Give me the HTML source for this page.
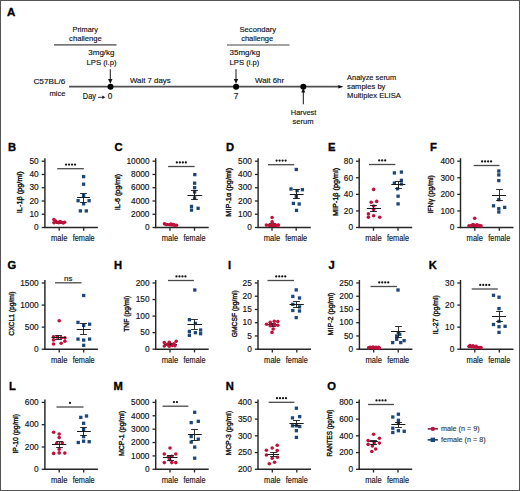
<!DOCTYPE html>
<html><head><meta charset="utf-8"><style>
html,body{margin:0;padding:0;background:#fff;}
body{width:520px;height:491px;overflow:hidden;}
.frame{position:absolute;left:0;top:0;width:518px;height:489px;border:1px solid #545454;}
svg{position:absolute;left:0;top:0;}
text{font-family:"Liberation Sans",sans-serif;stroke:#111;stroke-width:0.15px;}
</style></head><body>
<svg width="520" height="491" viewBox="0 0 520 491">
<rect x="0" y="0" width="520" height="491" fill="#fff"/>
<text x="7.0" y="16" font-size="11.5" text-anchor="start" font-weight="bold" fill="#000" style="stroke:#000;stroke-width:0.35px">A</text>
<text x="72.50" y="31.90" font-size="8.0" fill="#111" style="stroke-width:0.15px" textLength="25.40" lengthAdjust="spacingAndGlyphs">Primary</text>
<text x="69.10" y="41.10" font-size="8.0" fill="#111" style="stroke-width:0.15px" textLength="32.70" lengthAdjust="spacingAndGlyphs">challenge</text>
<line x1="54" y1="44.8" x2="116.5" y2="44.8" stroke="#444" stroke-width="1.2"/>
<text x="88.30" y="55.20" font-size="8.0" fill="#111" style="stroke-width:0.15px" textLength="26.20" lengthAdjust="spacingAndGlyphs">3mg/kg</text>
<text x="86.50" y="64.70" font-size="8.0" fill="#111" style="stroke-width:0.15px" textLength="30.10" lengthAdjust="spacingAndGlyphs">LPS (i.p)</text>
<text x="239.50" y="31.90" font-size="8.0" fill="#111" style="stroke-width:0.15px" textLength="36.60" lengthAdjust="spacingAndGlyphs">Secondary</text>
<text x="241.20" y="41.10" font-size="8.0" fill="#111" style="stroke-width:0.15px" textLength="32.00" lengthAdjust="spacingAndGlyphs">challenge</text>
<line x1="227" y1="45" x2="289.5" y2="45" stroke="#444" stroke-width="1.2"/>
<text x="229.60" y="55.20" font-size="8.0" fill="#111" style="stroke-width:0.15px" textLength="30.60" lengthAdjust="spacingAndGlyphs">35mg/kg</text>
<text x="229.60" y="64.70" font-size="8.0" fill="#111" style="stroke-width:0.15px" textLength="29.80" lengthAdjust="spacingAndGlyphs">LPS (i.p)</text>
<line x1="69" y1="86.7" x2="339" y2="86.7" stroke="#505050" stroke-width="1.7"/>
<path d="M338.3 84.9 L343.5 86.7 L338.3 88.5 Z" fill="#111"/>
<circle cx="110.5" cy="86.7" r="3.0" fill="#000"/>
<circle cx="236.1" cy="86.7" r="3.0" fill="#000"/>
<circle cx="303.3" cy="86.7" r="3.0" fill="#000"/>
<line x1="110.3" y1="69.3" x2="110.3" y2="80" stroke="#222" stroke-width="1.05"/>
<path d="M108.1 78.9 L112.5 78.9 L110.3 83.8 Z" fill="#111"/>
<line x1="236.0" y1="69.3" x2="236.0" y2="80" stroke="#222" stroke-width="1.05"/>
<path d="M233.8 78.9 L238.2 78.9 L236.0 83.8 Z" fill="#111"/>
<line x1="303.3" y1="91" x2="303.3" y2="104.3" stroke="#111" stroke-width="1"/>
<path d="M301.2 92.5 L305.4 92.5 L303.3 88.3 Z" fill="#111"/>
<text x="33.40" y="83.90" font-size="8.0" fill="#111" style="stroke-width:0.15px" textLength="32.00" lengthAdjust="spacingAndGlyphs">C57BL/6</text>
<text x="49.50" y="95.90" font-size="8.0" fill="#111" style="stroke-width:0.15px" textLength="15.90" lengthAdjust="spacingAndGlyphs">mice</text>
<text x="82.8" y="99.3" font-size="8.4" text-anchor="start" font-weight="normal" fill="#111" textLength="13.2" lengthAdjust="spacingAndGlyphs">Day</text>
<line x1="98" y1="97.3" x2="103" y2="97.3" stroke="#222" stroke-width="0.9"/>
<path d="M102.3 95.6 L105.3 97.3 L102.3 99 Z" fill="#111"/>
<text x="107.7" y="99.3" font-size="8.4" text-anchor="start" font-weight="normal" fill="#111" textLength="4.6" lengthAdjust="spacingAndGlyphs">0</text>
<text x="130.00" y="82.70" font-size="8.0" fill="#111" style="stroke-width:0.15px" textLength="40.60" lengthAdjust="spacingAndGlyphs">Wait 7 days</text>
<text x="236.2" y="99.3" font-size="8.4" text-anchor="middle" font-weight="normal" fill="#111" >7</text>
<text x="255.10" y="82.70" font-size="8.0" fill="#111" style="stroke-width:0.15px" textLength="29.00" lengthAdjust="spacingAndGlyphs">Wait 6hr</text>
<text x="290.80" y="114.80" font-size="8.0" fill="#111" style="stroke-width:0.15px" textLength="25.60" lengthAdjust="spacingAndGlyphs">Harvest</text>
<text x="292.60" y="124.00" font-size="8.0" fill="#111" style="stroke-width:0.15px" textLength="21.00" lengthAdjust="spacingAndGlyphs">serum</text>
<text x="347.10" y="79.70" font-size="8.0" fill="#111" style="stroke-width:0.15px" textLength="49.10" lengthAdjust="spacingAndGlyphs">Analyze serum</text>
<text x="347.10" y="89.00" font-size="8.0" fill="#111" style="stroke-width:0.15px" textLength="38.30" lengthAdjust="spacingAndGlyphs">samples by</text>
<text x="347.10" y="98.30" font-size="8.0" fill="#111" style="stroke-width:0.15px" textLength="53.70" lengthAdjust="spacingAndGlyphs">Multiplex ELISA</text>
<text x="8.0" y="150.8" font-size="11.2" text-anchor="start" font-weight="bold" fill="#000" style="stroke:#000;stroke-width:0.35px">B</text>
<line x1="44.9" y1="158.2" x2="44.9" y2="228.1" stroke="#262626" stroke-width="1.45"/>
<line x1="44.199999999999996" y1="227.5" x2="97.9" y2="227.5" stroke="#262626" stroke-width="1.45"/>
<line x1="41.699999999999996" y1="227.50" x2="44.9" y2="227.50" stroke="#262626" stroke-width="1.3"/>
<text x="38.7" y="230.25" font-size="8.3" text-anchor="end" font-weight="normal" fill="#111" >0</text>
<line x1="41.699999999999996" y1="214.24" x2="44.9" y2="214.24" stroke="#262626" stroke-width="1.3"/>
<text x="38.7" y="216.99" font-size="8.3" text-anchor="end" font-weight="normal" fill="#111" >10</text>
<line x1="41.699999999999996" y1="200.98" x2="44.9" y2="200.98" stroke="#262626" stroke-width="1.3"/>
<text x="38.7" y="203.73" font-size="8.3" text-anchor="end" font-weight="normal" fill="#111" >20</text>
<line x1="41.699999999999996" y1="187.72" x2="44.9" y2="187.72" stroke="#262626" stroke-width="1.3"/>
<text x="38.7" y="190.47" font-size="8.3" text-anchor="end" font-weight="normal" fill="#111" >30</text>
<line x1="41.699999999999996" y1="174.46" x2="44.9" y2="174.46" stroke="#262626" stroke-width="1.3"/>
<text x="38.7" y="177.21" font-size="8.3" text-anchor="end" font-weight="normal" fill="#111" >40</text>
<line x1="41.699999999999996" y1="161.20" x2="44.9" y2="161.20" stroke="#262626" stroke-width="1.3"/>
<text x="38.7" y="163.95" font-size="8.3" text-anchor="end" font-weight="normal" fill="#111" >50</text>
<line x1="59.2" y1="227.5" x2="59.2" y2="230.7" stroke="#262626" stroke-width="1.3"/>
<line x1="83.7" y1="227.5" x2="83.7" y2="230.7" stroke="#262626" stroke-width="1.3"/>
<text x="59.2" y="241.0" font-size="8.8" text-anchor="middle" font-weight="normal" fill="#111" textLength="16.4" lengthAdjust="spacingAndGlyphs">male</text>
<text x="83.7" y="241.0" font-size="8.8" text-anchor="middle" font-weight="normal" fill="#111" textLength="22.0" lengthAdjust="spacingAndGlyphs">female</text>
<text transform="translate(22.40,192.30) rotate(-90)" x="0" y="0" font-size="8.0" style="stroke-width:0.38px" text-anchor="middle" textLength="41.8" lengthAdjust="spacingAndGlyphs" fill="#111">IL-1β (pg/ml)</text>
<line x1="57.2" y1="168.7" x2="83.9" y2="168.7" stroke="#4a4a4a" stroke-width="1.3"/>
<circle cx="66.05" cy="164.60" r="1.12" fill="#111"/>
<circle cx="69.05" cy="164.60" r="1.12" fill="#111"/>
<circle cx="72.05" cy="164.60" r="1.12" fill="#111"/>
<circle cx="75.05" cy="164.60" r="1.12" fill="#111"/>
<line x1="52.5" y1="222.5" x2="65.5" y2="222.5" stroke="#1a1a1a" stroke-width="1"/>
<line x1="59.5" y1="221.5" x2="59.5" y2="223.5" stroke="#1a1a1a" stroke-width="0.9"/>
<line x1="56.1" y1="221.5" x2="62.9" y2="221.5" stroke="#1a1a1a" stroke-width="0.9"/>
<line x1="56.1" y1="223.5" x2="62.9" y2="223.5" stroke="#1a1a1a" stroke-width="0.9"/>
<circle cx="53.9" cy="219.5" r="1.8" fill="#c0113a"/>
<circle cx="54" cy="222.8" r="1.8" fill="#c0113a"/>
<circle cx="56.3" cy="222" r="1.8" fill="#c0113a"/>
<circle cx="58.7" cy="222.8" r="1.8" fill="#c0113a"/>
<circle cx="61" cy="222.2" r="1.8" fill="#c0113a"/>
<circle cx="63.3" cy="222.9" r="1.8" fill="#c0113a"/>
<circle cx="64.6" cy="222.3" r="1.8" fill="#c0113a"/>
<circle cx="60" cy="221.5" r="1.8" fill="#c0113a"/>
<circle cx="55.5" cy="221" r="1.8" fill="#c0113a"/>
<rect x="81.94999999999999" y="174.95" width="3.3" height="3.3" fill="#1b4679"/>
<rect x="81.94999999999999" y="182.54999999999998" width="3.3" height="3.3" fill="#1b4679"/>
<rect x="81.94999999999999" y="193.95" width="3.3" height="3.3" fill="#1b4679"/>
<rect x="76.44999999999999" y="199.04999999999998" width="3.3" height="3.3" fill="#1b4679"/>
<rect x="87.44999999999999" y="199.04999999999998" width="3.3" height="3.3" fill="#1b4679"/>
<rect x="81.94999999999999" y="202.15" width="3.3" height="3.3" fill="#1b4679"/>
<rect x="78.75" y="209.25" width="3.3" height="3.3" fill="#1b4679"/>
<rect x="84.64999999999999" y="209.25" width="3.3" height="3.3" fill="#1b4679"/>
<line x1="77.1" y1="197.5" x2="89.9" y2="197.5" stroke="#1a1a1a" stroke-width="1"/>
<line x1="83.5" y1="193.5" x2="83.5" y2="202.5" stroke="#1a1a1a" stroke-width="0.9"/>
<line x1="80.1" y1="193.5" x2="86.9" y2="193.5" stroke="#1a1a1a" stroke-width="0.9"/>
<line x1="80.1" y1="202.5" x2="86.9" y2="202.5" stroke="#1a1a1a" stroke-width="0.9"/>
<text x="114.5" y="150.8" font-size="11.2" text-anchor="start" font-weight="bold" fill="#000" style="stroke:#000;stroke-width:0.35px">C</text>
<line x1="155.7" y1="158.2" x2="155.7" y2="228.1" stroke="#262626" stroke-width="1.45"/>
<line x1="155.0" y1="227.5" x2="208.7" y2="227.5" stroke="#262626" stroke-width="1.45"/>
<line x1="152.5" y1="227.50" x2="155.7" y2="227.50" stroke="#262626" stroke-width="1.3"/>
<text x="149.5" y="230.25" font-size="8.3" text-anchor="end" font-weight="normal" fill="#111" >0</text>
<line x1="152.5" y1="214.24" x2="155.7" y2="214.24" stroke="#262626" stroke-width="1.3"/>
<text x="149.5" y="216.99" font-size="8.3" text-anchor="end" font-weight="normal" fill="#111" >2000</text>
<line x1="152.5" y1="200.98" x2="155.7" y2="200.98" stroke="#262626" stroke-width="1.3"/>
<text x="149.5" y="203.73" font-size="8.3" text-anchor="end" font-weight="normal" fill="#111" >4000</text>
<line x1="152.5" y1="187.72" x2="155.7" y2="187.72" stroke="#262626" stroke-width="1.3"/>
<text x="149.5" y="190.47" font-size="8.3" text-anchor="end" font-weight="normal" fill="#111" >6000</text>
<line x1="152.5" y1="174.46" x2="155.7" y2="174.46" stroke="#262626" stroke-width="1.3"/>
<text x="149.5" y="177.21" font-size="8.3" text-anchor="end" font-weight="normal" fill="#111" >8000</text>
<line x1="152.5" y1="161.20" x2="155.7" y2="161.20" stroke="#262626" stroke-width="1.3"/>
<text x="149.5" y="163.95" font-size="8.3" text-anchor="end" font-weight="normal" fill="#111" >10000</text>
<line x1="170.0" y1="227.5" x2="170.0" y2="230.7" stroke="#262626" stroke-width="1.3"/>
<line x1="194.5" y1="227.5" x2="194.5" y2="230.7" stroke="#262626" stroke-width="1.3"/>
<text x="170.0" y="241.0" font-size="8.8" text-anchor="middle" font-weight="normal" fill="#111" textLength="16.4" lengthAdjust="spacingAndGlyphs">male</text>
<text x="194.5" y="241.0" font-size="8.8" text-anchor="middle" font-weight="normal" fill="#111" textLength="22.0" lengthAdjust="spacingAndGlyphs">female</text>
<text transform="translate(120.40,192.10) rotate(-90)" x="0" y="0" font-size="8.0" style="stroke-width:0.38px" text-anchor="middle" textLength="36.4" lengthAdjust="spacingAndGlyphs" fill="#111">IL-6 (pg/ml)</text>
<line x1="168.1" y1="166.5" x2="194.6" y2="166.5" stroke="#4a4a4a" stroke-width="1.3"/>
<circle cx="176.85" cy="162.40" r="1.12" fill="#111"/>
<circle cx="179.85" cy="162.40" r="1.12" fill="#111"/>
<circle cx="182.85" cy="162.40" r="1.12" fill="#111"/>
<circle cx="185.85" cy="162.40" r="1.12" fill="#111"/>
<line x1="163.5" y1="224.5" x2="177" y2="224.5" stroke="#1a1a1a" stroke-width="1"/>
<line x1="170.5" y1="224.5" x2="170.5" y2="225.5" stroke="#1a1a1a" stroke-width="0.9"/>
<line x1="167.1" y1="224.5" x2="173.9" y2="224.5" stroke="#1a1a1a" stroke-width="0.9"/>
<line x1="167.1" y1="225.5" x2="173.9" y2="225.5" stroke="#1a1a1a" stroke-width="0.9"/>
<circle cx="164.5" cy="223.8" r="1.8" fill="#c0113a"/>
<circle cx="167" cy="224.5" r="1.8" fill="#c0113a"/>
<circle cx="169.5" cy="224.8" r="1.8" fill="#c0113a"/>
<circle cx="172" cy="225" r="1.8" fill="#c0113a"/>
<circle cx="174.5" cy="225.2" r="1.8" fill="#c0113a"/>
<circle cx="176.5" cy="225.3" r="1.8" fill="#c0113a"/>
<circle cx="166" cy="224.5" r="1.8" fill="#c0113a"/>
<circle cx="171" cy="224" r="1.8" fill="#c0113a"/>
<circle cx="173.5" cy="224.6" r="1.8" fill="#c0113a"/>
<rect x="193.15" y="172.95" width="3.3" height="3.3" fill="#1b4679"/>
<rect x="192.95" y="181.54999999999998" width="3.3" height="3.3" fill="#1b4679"/>
<rect x="192.95" y="186.04999999999998" width="3.3" height="3.3" fill="#1b4679"/>
<rect x="192.95" y="190.35" width="3.3" height="3.3" fill="#1b4679"/>
<rect x="192.95" y="196.35" width="3.3" height="3.3" fill="#1b4679"/>
<rect x="189.85" y="204.75" width="3.3" height="3.3" fill="#1b4679"/>
<rect x="189.85" y="208.45" width="3.3" height="3.3" fill="#1b4679"/>
<rect x="196.45" y="206.65" width="3.3" height="3.3" fill="#1b4679"/>
<line x1="187.5" y1="195.5" x2="202.2" y2="195.5" stroke="#1a1a1a" stroke-width="1"/>
<line x1="194.5" y1="190.5" x2="194.5" y2="199.5" stroke="#1a1a1a" stroke-width="0.9"/>
<line x1="191.1" y1="190.5" x2="197.9" y2="190.5" stroke="#1a1a1a" stroke-width="0.9"/>
<line x1="191.1" y1="199.5" x2="197.9" y2="199.5" stroke="#1a1a1a" stroke-width="0.9"/>
<text x="226.0" y="150.8" font-size="11.2" text-anchor="start" font-weight="bold" fill="#000" style="stroke:#000;stroke-width:0.35px">D</text>
<line x1="258.1" y1="158.2" x2="258.1" y2="228.1" stroke="#262626" stroke-width="1.45"/>
<line x1="257.40000000000003" y1="227.5" x2="310.8" y2="227.5" stroke="#262626" stroke-width="1.45"/>
<line x1="254.90000000000003" y1="227.50" x2="258.1" y2="227.50" stroke="#262626" stroke-width="1.3"/>
<text x="251.9" y="230.25" font-size="8.3" text-anchor="end" font-weight="normal" fill="#111" >0</text>
<line x1="254.90000000000003" y1="214.24" x2="258.1" y2="214.24" stroke="#262626" stroke-width="1.3"/>
<text x="251.9" y="216.99" font-size="8.3" text-anchor="end" font-weight="normal" fill="#111" >100</text>
<line x1="254.90000000000003" y1="200.98" x2="258.1" y2="200.98" stroke="#262626" stroke-width="1.3"/>
<text x="251.9" y="203.73" font-size="8.3" text-anchor="end" font-weight="normal" fill="#111" >200</text>
<line x1="254.90000000000003" y1="187.72" x2="258.1" y2="187.72" stroke="#262626" stroke-width="1.3"/>
<text x="251.9" y="190.47" font-size="8.3" text-anchor="end" font-weight="normal" fill="#111" >300</text>
<line x1="254.90000000000003" y1="174.46" x2="258.1" y2="174.46" stroke="#262626" stroke-width="1.3"/>
<text x="251.9" y="177.21" font-size="8.3" text-anchor="end" font-weight="normal" fill="#111" >400</text>
<line x1="254.90000000000003" y1="161.20" x2="258.1" y2="161.20" stroke="#262626" stroke-width="1.3"/>
<text x="251.9" y="163.95" font-size="8.3" text-anchor="end" font-weight="normal" fill="#111" >500</text>
<line x1="272.0" y1="227.5" x2="272.0" y2="230.7" stroke="#262626" stroke-width="1.3"/>
<line x1="296.2" y1="227.5" x2="296.2" y2="230.7" stroke="#262626" stroke-width="1.3"/>
<text x="272.0" y="241.0" font-size="8.8" text-anchor="middle" font-weight="normal" fill="#111" textLength="16.4" lengthAdjust="spacingAndGlyphs">male</text>
<text x="296.2" y="241.0" font-size="8.8" text-anchor="middle" font-weight="normal" fill="#111" textLength="22.0" lengthAdjust="spacingAndGlyphs">female</text>
<text transform="translate(231.40,192.25) rotate(-90)" x="0" y="0" font-size="8.0" style="stroke-width:0.38px" text-anchor="middle" textLength="48.9" lengthAdjust="spacingAndGlyphs" fill="#111">MIP-1α (pg/ml)</text>
<line x1="268.0" y1="164.7" x2="294.2" y2="164.7" stroke="#4a4a4a" stroke-width="1.3"/>
<circle cx="276.60" cy="160.60" r="1.12" fill="#111"/>
<circle cx="279.60" cy="160.60" r="1.12" fill="#111"/>
<circle cx="282.60" cy="160.60" r="1.12" fill="#111"/>
<circle cx="285.60" cy="160.60" r="1.12" fill="#111"/>
<line x1="265" y1="224.5" x2="279" y2="224.5" stroke="#1a1a1a" stroke-width="1"/>
<line x1="272.5" y1="223.5" x2="272.5" y2="226.5" stroke="#1a1a1a" stroke-width="0.9"/>
<line x1="269.1" y1="223.5" x2="275.9" y2="223.5" stroke="#1a1a1a" stroke-width="0.9"/>
<line x1="269.1" y1="226.5" x2="275.9" y2="226.5" stroke="#1a1a1a" stroke-width="0.9"/>
<circle cx="272.1" cy="217.5" r="1.8" fill="#c0113a"/>
<circle cx="272.1" cy="221.8" r="1.8" fill="#c0113a"/>
<circle cx="266.4" cy="225.1" r="1.8" fill="#c0113a"/>
<circle cx="269" cy="225.3" r="1.8" fill="#c0113a"/>
<circle cx="271.6" cy="225.4" r="1.8" fill="#c0113a"/>
<circle cx="274.2" cy="225.4" r="1.8" fill="#c0113a"/>
<circle cx="276.8" cy="225.3" r="1.8" fill="#c0113a"/>
<circle cx="278.5" cy="225.1" r="1.8" fill="#c0113a"/>
<circle cx="272.5" cy="223.9" r="1.8" fill="#c0113a"/>
<rect x="294.65000000000003" y="167.85" width="3.3" height="3.3" fill="#1b4679"/>
<rect x="289.35" y="187.35" width="3.3" height="3.3" fill="#1b4679"/>
<rect x="295.45000000000005" y="188.95" width="3.3" height="3.3" fill="#1b4679"/>
<rect x="300.75" y="188.04999999999998" width="3.3" height="3.3" fill="#1b4679"/>
<rect x="294.65000000000003" y="194.75" width="3.3" height="3.3" fill="#1b4679"/>
<rect x="291.75" y="201.75" width="3.3" height="3.3" fill="#1b4679"/>
<rect x="297.55" y="202.35" width="3.3" height="3.3" fill="#1b4679"/>
<rect x="294.85" y="208.75" width="3.3" height="3.3" fill="#1b4679"/>
<line x1="289.8" y1="194.5" x2="303.6" y2="194.5" stroke="#1a1a1a" stroke-width="1"/>
<line x1="296.5" y1="189.5" x2="296.5" y2="198.5" stroke="#1a1a1a" stroke-width="0.9"/>
<line x1="293.1" y1="189.5" x2="299.9" y2="189.5" stroke="#1a1a1a" stroke-width="0.9"/>
<line x1="293.1" y1="198.5" x2="299.9" y2="198.5" stroke="#1a1a1a" stroke-width="0.9"/>
<text x="328.0" y="150.8" font-size="11.2" text-anchor="start" font-weight="bold" fill="#000" style="stroke:#000;stroke-width:0.35px">E</text>
<line x1="359.2" y1="158.2" x2="359.2" y2="228.1" stroke="#262626" stroke-width="1.45"/>
<line x1="358.5" y1="227.5" x2="412.2" y2="227.5" stroke="#262626" stroke-width="1.45"/>
<line x1="356.0" y1="227.50" x2="359.2" y2="227.50" stroke="#262626" stroke-width="1.3"/>
<text x="353.0" y="230.25" font-size="8.3" text-anchor="end" font-weight="normal" fill="#111" >0</text>
<line x1="356.0" y1="210.93" x2="359.2" y2="210.93" stroke="#262626" stroke-width="1.3"/>
<text x="353.0" y="213.68" font-size="8.3" text-anchor="end" font-weight="normal" fill="#111" >20</text>
<line x1="356.0" y1="194.35" x2="359.2" y2="194.35" stroke="#262626" stroke-width="1.3"/>
<text x="353.0" y="197.1" font-size="8.3" text-anchor="end" font-weight="normal" fill="#111" >40</text>
<line x1="356.0" y1="177.77" x2="359.2" y2="177.77" stroke="#262626" stroke-width="1.3"/>
<text x="353.0" y="180.52" font-size="8.3" text-anchor="end" font-weight="normal" fill="#111" >60</text>
<line x1="356.0" y1="161.20" x2="359.2" y2="161.20" stroke="#262626" stroke-width="1.3"/>
<text x="353.0" y="163.95" font-size="8.3" text-anchor="end" font-weight="normal" fill="#111" >80</text>
<line x1="373.5" y1="227.5" x2="373.5" y2="230.7" stroke="#262626" stroke-width="1.3"/>
<line x1="398.0" y1="227.5" x2="398.0" y2="230.7" stroke="#262626" stroke-width="1.3"/>
<text x="373.5" y="241.0" font-size="8.8" text-anchor="middle" font-weight="normal" fill="#111" textLength="16.4" lengthAdjust="spacingAndGlyphs">male</text>
<text x="398.0" y="241.0" font-size="8.8" text-anchor="middle" font-weight="normal" fill="#111" textLength="22.0" lengthAdjust="spacingAndGlyphs">female</text>
<text transform="translate(338.00,191.95) rotate(-90)" x="0" y="0" font-size="8.0" style="stroke-width:0.38px" text-anchor="middle" textLength="48.3" lengthAdjust="spacingAndGlyphs" fill="#111">MIP-1β (pg/ml)</text>
<line x1="369.0" y1="164.5" x2="395.4" y2="164.5" stroke="#4a4a4a" stroke-width="1.3"/>
<circle cx="379.20" cy="160.40" r="1.12" fill="#111"/>
<circle cx="382.20" cy="160.40" r="1.12" fill="#111"/>
<circle cx="385.20" cy="160.40" r="1.12" fill="#111"/>
<circle cx="373.6" cy="189.4" r="1.8" fill="#c0113a"/>
<circle cx="371.2" cy="202.3" r="1.8" fill="#c0113a"/>
<circle cx="376.7" cy="201.4" r="1.8" fill="#c0113a"/>
<circle cx="373.6" cy="209.6" r="1.8" fill="#c0113a"/>
<circle cx="368.4" cy="213.9" r="1.8" fill="#c0113a"/>
<circle cx="368.4" cy="217.3" r="1.8" fill="#c0113a"/>
<circle cx="373.6" cy="215.7" r="1.8" fill="#c0113a"/>
<circle cx="379.7" cy="217.3" r="1.8" fill="#c0113a"/>
<circle cx="373.6" cy="206" r="1.8" fill="#c0113a"/>
<rect x="392.75" y="171.25" width="3.3" height="3.3" fill="#1b4679"/>
<rect x="399.75" y="170.45" width="3.3" height="3.3" fill="#1b4679"/>
<rect x="399.75" y="178.65" width="3.3" height="3.3" fill="#1b4679"/>
<rect x="392.75" y="181.45" width="3.3" height="3.3" fill="#1b4679"/>
<rect x="399.75" y="182.35" width="3.3" height="3.3" fill="#1b4679"/>
<rect x="395.85" y="187.15" width="3.3" height="3.3" fill="#1b4679"/>
<rect x="396.45000000000005" y="194.54999999999998" width="3.3" height="3.3" fill="#1b4679"/>
<rect x="396.45000000000005" y="202.25" width="3.3" height="3.3" fill="#1b4679"/>
<line x1="366.9" y1="208.5" x2="381" y2="208.5" stroke="#1a1a1a" stroke-width="1"/>
<line x1="373.5" y1="205.5" x2="373.5" y2="211.5" stroke="#1a1a1a" stroke-width="0.9"/>
<line x1="370.1" y1="205.5" x2="376.9" y2="205.5" stroke="#1a1a1a" stroke-width="0.9"/>
<line x1="370.1" y1="211.5" x2="376.9" y2="211.5" stroke="#1a1a1a" stroke-width="0.9"/>
<line x1="391.3" y1="184.5" x2="405.4" y2="184.5" stroke="#1a1a1a" stroke-width="1"/>
<line x1="398.5" y1="181.5" x2="398.5" y2="188.5" stroke="#1a1a1a" stroke-width="0.9"/>
<line x1="395.1" y1="181.5" x2="401.9" y2="181.5" stroke="#1a1a1a" stroke-width="0.9"/>
<line x1="395.1" y1="188.5" x2="401.9" y2="188.5" stroke="#1a1a1a" stroke-width="0.9"/>
<text x="430.0" y="150.8" font-size="11.2" text-anchor="start" font-weight="bold" fill="#000" style="stroke:#000;stroke-width:0.35px">F</text>
<line x1="460.5" y1="158.2" x2="460.5" y2="228.1" stroke="#262626" stroke-width="1.45"/>
<line x1="459.8" y1="227.5" x2="513.5" y2="227.5" stroke="#262626" stroke-width="1.45"/>
<line x1="457.3" y1="227.50" x2="460.5" y2="227.50" stroke="#262626" stroke-width="1.3"/>
<text x="454.3" y="230.25" font-size="8.3" text-anchor="end" font-weight="normal" fill="#111" >0</text>
<line x1="457.3" y1="210.93" x2="460.5" y2="210.93" stroke="#262626" stroke-width="1.3"/>
<text x="454.3" y="213.68" font-size="8.3" text-anchor="end" font-weight="normal" fill="#111" >100</text>
<line x1="457.3" y1="194.35" x2="460.5" y2="194.35" stroke="#262626" stroke-width="1.3"/>
<text x="454.3" y="197.1" font-size="8.3" text-anchor="end" font-weight="normal" fill="#111" >200</text>
<line x1="457.3" y1="177.77" x2="460.5" y2="177.77" stroke="#262626" stroke-width="1.3"/>
<text x="454.3" y="180.52" font-size="8.3" text-anchor="end" font-weight="normal" fill="#111" >300</text>
<line x1="457.3" y1="161.20" x2="460.5" y2="161.20" stroke="#262626" stroke-width="1.3"/>
<text x="454.3" y="163.95" font-size="8.3" text-anchor="end" font-weight="normal" fill="#111" >400</text>
<line x1="474.8" y1="227.5" x2="474.8" y2="230.7" stroke="#262626" stroke-width="1.3"/>
<line x1="499.3" y1="227.5" x2="499.3" y2="230.7" stroke="#262626" stroke-width="1.3"/>
<text x="474.8" y="241.0" font-size="8.8" text-anchor="middle" font-weight="normal" fill="#111" textLength="16.4" lengthAdjust="spacingAndGlyphs">male</text>
<text x="499.3" y="241.0" font-size="8.8" text-anchor="middle" font-weight="normal" fill="#111" textLength="22.0" lengthAdjust="spacingAndGlyphs">female</text>
<text transform="translate(433.00,194.35) rotate(-90)" x="0" y="0" font-size="8.0" style="stroke-width:0.38px" text-anchor="middle" textLength="38.5" lengthAdjust="spacingAndGlyphs" fill="#111">IFNγ (pg/ml)</text>
<line x1="473.7" y1="165.5" x2="499.5" y2="165.5" stroke="#4a4a4a" stroke-width="1.3"/>
<circle cx="482.10" cy="161.40" r="1.12" fill="#111"/>
<circle cx="485.10" cy="161.40" r="1.12" fill="#111"/>
<circle cx="488.10" cy="161.40" r="1.12" fill="#111"/>
<circle cx="491.10" cy="161.40" r="1.12" fill="#111"/>
<line x1="468" y1="225.5" x2="481.5" y2="225.5" stroke="#1a1a1a" stroke-width="1"/>
<line x1="474.5" y1="224.5" x2="474.5" y2="226.5" stroke="#1a1a1a" stroke-width="0.9"/>
<line x1="471.1" y1="224.5" x2="477.9" y2="224.5" stroke="#1a1a1a" stroke-width="0.9"/>
<line x1="471.1" y1="226.5" x2="477.9" y2="226.5" stroke="#1a1a1a" stroke-width="0.9"/>
<circle cx="474.7" cy="218.2" r="1.8" fill="#c0113a"/>
<circle cx="469" cy="225.8" r="1.8" fill="#c0113a"/>
<circle cx="471.5" cy="225.5" r="1.8" fill="#c0113a"/>
<circle cx="474" cy="225.3" r="1.8" fill="#c0113a"/>
<circle cx="476.5" cy="225.5" r="1.8" fill="#c0113a"/>
<circle cx="479" cy="225.6" r="1.8" fill="#c0113a"/>
<circle cx="481" cy="225.9" r="1.8" fill="#c0113a"/>
<circle cx="473" cy="224.6" r="1.8" fill="#c0113a"/>
<circle cx="477" cy="224.8" r="1.8" fill="#c0113a"/>
<rect x="497.15000000000003" y="169.35" width="3.3" height="3.3" fill="#1b4679"/>
<rect x="497.15000000000003" y="173.25" width="3.3" height="3.3" fill="#1b4679"/>
<rect x="497.15000000000003" y="178.95" width="3.3" height="3.3" fill="#1b4679"/>
<rect x="497.15000000000003" y="198.04999999999998" width="3.3" height="3.3" fill="#1b4679"/>
<rect x="491.85" y="204.15" width="3.3" height="3.3" fill="#1b4679"/>
<rect x="503.05" y="205.75" width="3.3" height="3.3" fill="#1b4679"/>
<rect x="497.15000000000003" y="207.04999999999998" width="3.3" height="3.3" fill="#1b4679"/>
<rect x="497.15000000000003" y="210.35" width="3.3" height="3.3" fill="#1b4679"/>
<line x1="492.1" y1="195.5" x2="506" y2="195.5" stroke="#1a1a1a" stroke-width="1"/>
<line x1="499.5" y1="189.5" x2="499.5" y2="200.5" stroke="#1a1a1a" stroke-width="0.9"/>
<line x1="496.1" y1="189.5" x2="502.9" y2="189.5" stroke="#1a1a1a" stroke-width="0.9"/>
<line x1="496.1" y1="200.5" x2="502.9" y2="200.5" stroke="#1a1a1a" stroke-width="0.9"/>
<text x="7.5" y="268.7" font-size="11.2" text-anchor="start" font-weight="bold" fill="#000" style="stroke:#000;stroke-width:0.35px">G</text>
<line x1="44.9" y1="280.0" x2="44.9" y2="349.8" stroke="#262626" stroke-width="1.45"/>
<line x1="44.199999999999996" y1="349.2" x2="97.9" y2="349.2" stroke="#262626" stroke-width="1.45"/>
<line x1="41.699999999999996" y1="349.20" x2="44.9" y2="349.20" stroke="#262626" stroke-width="1.3"/>
<text x="38.7" y="351.95" font-size="8.3" text-anchor="end" font-weight="normal" fill="#111" >0</text>
<line x1="41.699999999999996" y1="327.13" x2="44.9" y2="327.13" stroke="#262626" stroke-width="1.3"/>
<text x="38.7" y="329.88" font-size="8.3" text-anchor="end" font-weight="normal" fill="#111" >500</text>
<line x1="41.699999999999996" y1="305.07" x2="44.9" y2="305.07" stroke="#262626" stroke-width="1.3"/>
<text x="38.7" y="307.82" font-size="8.3" text-anchor="end" font-weight="normal" fill="#111" >1000</text>
<line x1="41.699999999999996" y1="283.00" x2="44.9" y2="283.00" stroke="#262626" stroke-width="1.3"/>
<text x="38.7" y="285.75" font-size="8.3" text-anchor="end" font-weight="normal" fill="#111" >1500</text>
<line x1="59.2" y1="349.2" x2="59.2" y2="352.4" stroke="#262626" stroke-width="1.3"/>
<line x1="83.7" y1="349.2" x2="83.7" y2="352.4" stroke="#262626" stroke-width="1.3"/>
<text x="59.2" y="362.7" font-size="8.8" text-anchor="middle" font-weight="normal" fill="#111" textLength="16.4" lengthAdjust="spacingAndGlyphs">male</text>
<text x="83.7" y="362.7" font-size="8.8" text-anchor="middle" font-weight="normal" fill="#111" textLength="22.0" lengthAdjust="spacingAndGlyphs">female</text>
<text transform="translate(14.40,313.55) rotate(-90)" x="0" y="0" font-size="8.0" style="stroke-width:0.38px" text-anchor="middle" textLength="44.3" lengthAdjust="spacingAndGlyphs" fill="#111">CXCL1 (pg/ml)</text>
<line x1="55.0" y1="282.8" x2="81.5" y2="282.8" stroke="#4a4a4a" stroke-width="1.3"/>
<text x="68.25" y="280.6" font-size="8" text-anchor="middle" font-weight="normal" fill="#111" >ns</text>
<circle cx="59.2" cy="320.8" r="1.8" fill="#c0113a"/>
<circle cx="53.5" cy="336.7" r="1.8" fill="#c0113a"/>
<circle cx="53.5" cy="339.9" r="1.8" fill="#c0113a"/>
<circle cx="53.5" cy="344" r="1.8" fill="#c0113a"/>
<circle cx="57.2" cy="337.1" r="1.8" fill="#c0113a"/>
<circle cx="61.2" cy="337.7" r="1.8" fill="#c0113a"/>
<circle cx="64.9" cy="337.9" r="1.8" fill="#c0113a"/>
<circle cx="64.9" cy="341.3" r="1.8" fill="#c0113a"/>
<circle cx="61.2" cy="343.2" r="1.8" fill="#c0113a"/>
<rect x="82.05" y="293.85" width="3.3" height="3.3" fill="#1b4679"/>
<rect x="76.35" y="320.75" width="3.3" height="3.3" fill="#1b4679"/>
<rect x="87.94999999999999" y="322.55" width="3.3" height="3.3" fill="#1b4679"/>
<rect x="82.05" y="323.85" width="3.3" height="3.3" fill="#1b4679"/>
<rect x="76.35" y="337.45000000000005" width="3.3" height="3.3" fill="#1b4679"/>
<rect x="87.94999999999999" y="337.45000000000005" width="3.3" height="3.3" fill="#1b4679"/>
<rect x="82.05" y="338.45000000000005" width="3.3" height="3.3" fill="#1b4679"/>
<rect x="82.05" y="343.65000000000003" width="3.3" height="3.3" fill="#1b4679"/>
<line x1="51.5" y1="337.5" x2="66" y2="337.5" stroke="#1a1a1a" stroke-width="1"/>
<line x1="58.5" y1="335.5" x2="58.5" y2="339.5" stroke="#1a1a1a" stroke-width="0.9"/>
<line x1="55.1" y1="335.5" x2="61.9" y2="335.5" stroke="#1a1a1a" stroke-width="0.9"/>
<line x1="55.1" y1="339.5" x2="61.9" y2="339.5" stroke="#1a1a1a" stroke-width="0.9"/>
<line x1="76.7" y1="329.5" x2="90.8" y2="329.5" stroke="#1a1a1a" stroke-width="1"/>
<line x1="83.5" y1="323.5" x2="83.5" y2="334.5" stroke="#1a1a1a" stroke-width="0.9"/>
<line x1="80.1" y1="323.5" x2="86.9" y2="323.5" stroke="#1a1a1a" stroke-width="0.9"/>
<line x1="80.1" y1="334.5" x2="86.9" y2="334.5" stroke="#1a1a1a" stroke-width="0.9"/>
<text x="114.0" y="268.7" font-size="11.2" text-anchor="start" font-weight="bold" fill="#000" style="stroke:#000;stroke-width:0.35px">H</text>
<line x1="155.7" y1="280.0" x2="155.7" y2="349.8" stroke="#262626" stroke-width="1.45"/>
<line x1="155.0" y1="349.2" x2="208.7" y2="349.2" stroke="#262626" stroke-width="1.45"/>
<line x1="152.5" y1="349.20" x2="155.7" y2="349.20" stroke="#262626" stroke-width="1.3"/>
<text x="149.5" y="351.95" font-size="8.3" text-anchor="end" font-weight="normal" fill="#111" >0</text>
<line x1="152.5" y1="332.65" x2="155.7" y2="332.65" stroke="#262626" stroke-width="1.3"/>
<text x="149.5" y="335.4" font-size="8.3" text-anchor="end" font-weight="normal" fill="#111" >50</text>
<line x1="152.5" y1="316.10" x2="155.7" y2="316.10" stroke="#262626" stroke-width="1.3"/>
<text x="149.5" y="318.85" font-size="8.3" text-anchor="end" font-weight="normal" fill="#111" >100</text>
<line x1="152.5" y1="299.55" x2="155.7" y2="299.55" stroke="#262626" stroke-width="1.3"/>
<text x="149.5" y="302.3" font-size="8.3" text-anchor="end" font-weight="normal" fill="#111" >150</text>
<line x1="152.5" y1="283.00" x2="155.7" y2="283.00" stroke="#262626" stroke-width="1.3"/>
<text x="149.5" y="285.75" font-size="8.3" text-anchor="end" font-weight="normal" fill="#111" >200</text>
<line x1="170.0" y1="349.2" x2="170.0" y2="352.4" stroke="#262626" stroke-width="1.3"/>
<line x1="194.5" y1="349.2" x2="194.5" y2="352.4" stroke="#262626" stroke-width="1.3"/>
<text x="170.0" y="362.7" font-size="8.8" text-anchor="middle" font-weight="normal" fill="#111" textLength="16.4" lengthAdjust="spacingAndGlyphs">male</text>
<text x="194.5" y="362.7" font-size="8.8" text-anchor="middle" font-weight="normal" fill="#111" textLength="22.0" lengthAdjust="spacingAndGlyphs">female</text>
<text transform="translate(128.60,313.75) rotate(-90)" x="0" y="0" font-size="8.0" style="stroke-width:0.38px" text-anchor="middle" textLength="36.1" lengthAdjust="spacingAndGlyphs" fill="#111">TNF (pg/ml)</text>
<line x1="168.0" y1="280.5" x2="193.9" y2="280.5" stroke="#4a4a4a" stroke-width="1.3"/>
<circle cx="176.45" cy="276.40" r="1.12" fill="#111"/>
<circle cx="179.45" cy="276.40" r="1.12" fill="#111"/>
<circle cx="182.45" cy="276.40" r="1.12" fill="#111"/>
<circle cx="185.45" cy="276.40" r="1.12" fill="#111"/>
<line x1="164" y1="344.5" x2="177" y2="344.5" stroke="#1a1a1a" stroke-width="1"/>
<line x1="170.5" y1="343.5" x2="170.5" y2="345.5" stroke="#1a1a1a" stroke-width="0.9"/>
<line x1="167.1" y1="343.5" x2="173.9" y2="343.5" stroke="#1a1a1a" stroke-width="0.9"/>
<line x1="167.1" y1="345.5" x2="173.9" y2="345.5" stroke="#1a1a1a" stroke-width="0.9"/>
<circle cx="164.3" cy="342.5" r="1.8" fill="#c0113a"/>
<circle cx="164.3" cy="346" r="1.8" fill="#c0113a"/>
<circle cx="167" cy="344.5" r="1.8" fill="#c0113a"/>
<circle cx="169.3" cy="342.3" r="1.8" fill="#c0113a"/>
<circle cx="169.3" cy="346.3" r="1.8" fill="#c0113a"/>
<circle cx="172.5" cy="345.5" r="1.8" fill="#c0113a"/>
<circle cx="175" cy="345.8" r="1.8" fill="#c0113a"/>
<circle cx="176.2" cy="341.3" r="1.8" fill="#c0113a"/>
<circle cx="174" cy="343.8" r="1.8" fill="#c0113a"/>
<rect x="193.15" y="288.35" width="3.3" height="3.3" fill="#1b4679"/>
<rect x="187.75" y="318.05" width="3.3" height="3.3" fill="#1b4679"/>
<rect x="193.75" y="321.75" width="3.3" height="3.3" fill="#1b4679"/>
<rect x="187.75" y="329.75" width="3.3" height="3.3" fill="#1b4679"/>
<rect x="187.75" y="333.65000000000003" width="3.3" height="3.3" fill="#1b4679"/>
<rect x="193.75" y="331.05" width="3.3" height="3.3" fill="#1b4679"/>
<rect x="198.95" y="328.35" width="3.3" height="3.3" fill="#1b4679"/>
<rect x="198.95" y="332.05" width="3.3" height="3.3" fill="#1b4679"/>
<line x1="187.4" y1="324.5" x2="202" y2="324.5" stroke="#1a1a1a" stroke-width="1"/>
<line x1="194.5" y1="319.5" x2="194.5" y2="329.5" stroke="#1a1a1a" stroke-width="0.9"/>
<line x1="191.1" y1="319.5" x2="197.9" y2="319.5" stroke="#1a1a1a" stroke-width="0.9"/>
<line x1="191.1" y1="329.5" x2="197.9" y2="329.5" stroke="#1a1a1a" stroke-width="0.9"/>
<text x="228.0" y="268.7" font-size="11.2" text-anchor="start" font-weight="bold" fill="#000" style="stroke:#000;stroke-width:0.35px">I</text>
<line x1="258.0" y1="280.0" x2="258.0" y2="349.8" stroke="#262626" stroke-width="1.45"/>
<line x1="257.3" y1="349.2" x2="311.0" y2="349.2" stroke="#262626" stroke-width="1.45"/>
<line x1="254.8" y1="349.20" x2="258.0" y2="349.20" stroke="#262626" stroke-width="1.3"/>
<text x="251.8" y="351.95" font-size="8.3" text-anchor="end" font-weight="normal" fill="#111" >0</text>
<line x1="254.8" y1="335.96" x2="258.0" y2="335.96" stroke="#262626" stroke-width="1.3"/>
<text x="251.8" y="338.71" font-size="8.3" text-anchor="end" font-weight="normal" fill="#111" >5</text>
<line x1="254.8" y1="322.72" x2="258.0" y2="322.72" stroke="#262626" stroke-width="1.3"/>
<text x="251.8" y="325.47" font-size="8.3" text-anchor="end" font-weight="normal" fill="#111" >10</text>
<line x1="254.8" y1="309.48" x2="258.0" y2="309.48" stroke="#262626" stroke-width="1.3"/>
<text x="251.8" y="312.23" font-size="8.3" text-anchor="end" font-weight="normal" fill="#111" >15</text>
<line x1="254.8" y1="296.24" x2="258.0" y2="296.24" stroke="#262626" stroke-width="1.3"/>
<text x="251.8" y="298.99" font-size="8.3" text-anchor="end" font-weight="normal" fill="#111" >20</text>
<line x1="254.8" y1="283.00" x2="258.0" y2="283.00" stroke="#262626" stroke-width="1.3"/>
<text x="251.8" y="285.75" font-size="8.3" text-anchor="end" font-weight="normal" fill="#111" >25</text>
<line x1="272.3" y1="349.2" x2="272.3" y2="352.4" stroke="#262626" stroke-width="1.3"/>
<line x1="296.8" y1="349.2" x2="296.8" y2="352.4" stroke="#262626" stroke-width="1.3"/>
<text x="272.3" y="362.7" font-size="8.8" text-anchor="middle" font-weight="normal" fill="#111" textLength="16.4" lengthAdjust="spacingAndGlyphs">male</text>
<text x="296.8" y="362.7" font-size="8.8" text-anchor="middle" font-weight="normal" fill="#111" textLength="22.0" lengthAdjust="spacingAndGlyphs">female</text>
<text transform="translate(236.60,313.75) rotate(-90)" x="0" y="0" font-size="8.0" style="stroke-width:0.38px" text-anchor="middle" textLength="47.1" lengthAdjust="spacingAndGlyphs" fill="#111">GMCSF (pg/ml)</text>
<line x1="267.5" y1="280.5" x2="294.0" y2="280.5" stroke="#4a4a4a" stroke-width="1.3"/>
<circle cx="276.25" cy="276.40" r="1.12" fill="#111"/>
<circle cx="279.25" cy="276.40" r="1.12" fill="#111"/>
<circle cx="282.25" cy="276.40" r="1.12" fill="#111"/>
<circle cx="285.25" cy="276.40" r="1.12" fill="#111"/>
<line x1="265.5" y1="324.5" x2="279" y2="324.5" stroke="#1a1a1a" stroke-width="1"/>
<line x1="272.5" y1="323.5" x2="272.5" y2="326.5" stroke="#1a1a1a" stroke-width="0.9"/>
<line x1="269.1" y1="323.5" x2="275.9" y2="323.5" stroke="#1a1a1a" stroke-width="0.9"/>
<line x1="269.1" y1="326.5" x2="275.9" y2="326.5" stroke="#1a1a1a" stroke-width="0.9"/>
<circle cx="266.6" cy="324.2" r="1.8" fill="#c0113a"/>
<circle cx="270.2" cy="322.2" r="1.8" fill="#c0113a"/>
<circle cx="274.3" cy="321.2" r="1.8" fill="#c0113a"/>
<circle cx="277.8" cy="321.5" r="1.8" fill="#c0113a"/>
<circle cx="277.8" cy="325.2" r="1.8" fill="#c0113a"/>
<circle cx="270.2" cy="325.7" r="1.8" fill="#c0113a"/>
<circle cx="274.3" cy="324.7" r="1.8" fill="#c0113a"/>
<circle cx="273.2" cy="329" r="1.8" fill="#c0113a"/>
<circle cx="272" cy="332.4" r="1.8" fill="#c0113a"/>
<rect x="294.55" y="288.25" width="3.3" height="3.3" fill="#1b4679"/>
<rect x="291.15000000000003" y="294.75" width="3.3" height="3.3" fill="#1b4679"/>
<rect x="297.85" y="296.35" width="3.3" height="3.3" fill="#1b4679"/>
<rect x="291.15000000000003" y="302.65000000000003" width="3.3" height="3.3" fill="#1b4679"/>
<rect x="297.85" y="305.25" width="3.3" height="3.3" fill="#1b4679"/>
<rect x="291.15000000000003" y="308.85" width="3.3" height="3.3" fill="#1b4679"/>
<rect x="297.85" y="309.35" width="3.3" height="3.3" fill="#1b4679"/>
<rect x="294.55" y="315.95000000000005" width="3.3" height="3.3" fill="#1b4679"/>
<line x1="289.5" y1="304.5" x2="303.8" y2="304.5" stroke="#1a1a1a" stroke-width="1"/>
<line x1="296.5" y1="301.5" x2="296.5" y2="307.5" stroke="#1a1a1a" stroke-width="0.9"/>
<line x1="293.1" y1="301.5" x2="299.9" y2="301.5" stroke="#1a1a1a" stroke-width="0.9"/>
<line x1="293.1" y1="307.5" x2="299.9" y2="307.5" stroke="#1a1a1a" stroke-width="0.9"/>
<text x="328.5" y="268.7" font-size="11.2" text-anchor="start" font-weight="bold" fill="#000" style="stroke:#000;stroke-width:0.35px">J</text>
<line x1="359.4" y1="280.0" x2="359.4" y2="349.8" stroke="#262626" stroke-width="1.45"/>
<line x1="358.7" y1="349.2" x2="412.4" y2="349.2" stroke="#262626" stroke-width="1.45"/>
<line x1="356.2" y1="349.20" x2="359.4" y2="349.20" stroke="#262626" stroke-width="1.3"/>
<text x="353.2" y="351.95" font-size="8.3" text-anchor="end" font-weight="normal" fill="#111" >0</text>
<line x1="356.2" y1="335.96" x2="359.4" y2="335.96" stroke="#262626" stroke-width="1.3"/>
<text x="353.2" y="338.71" font-size="8.3" text-anchor="end" font-weight="normal" fill="#111" >50</text>
<line x1="356.2" y1="322.72" x2="359.4" y2="322.72" stroke="#262626" stroke-width="1.3"/>
<text x="353.2" y="325.47" font-size="8.3" text-anchor="end" font-weight="normal" fill="#111" >100</text>
<line x1="356.2" y1="309.48" x2="359.4" y2="309.48" stroke="#262626" stroke-width="1.3"/>
<text x="353.2" y="312.23" font-size="8.3" text-anchor="end" font-weight="normal" fill="#111" >150</text>
<line x1="356.2" y1="296.24" x2="359.4" y2="296.24" stroke="#262626" stroke-width="1.3"/>
<text x="353.2" y="298.99" font-size="8.3" text-anchor="end" font-weight="normal" fill="#111" >200</text>
<line x1="356.2" y1="283.00" x2="359.4" y2="283.00" stroke="#262626" stroke-width="1.3"/>
<text x="353.2" y="285.75" font-size="8.3" text-anchor="end" font-weight="normal" fill="#111" >250</text>
<line x1="373.7" y1="349.2" x2="373.7" y2="352.4" stroke="#262626" stroke-width="1.3"/>
<line x1="398.2" y1="349.2" x2="398.2" y2="352.4" stroke="#262626" stroke-width="1.3"/>
<text x="373.7" y="362.7" font-size="8.8" text-anchor="middle" font-weight="normal" fill="#111" textLength="16.4" lengthAdjust="spacingAndGlyphs">male</text>
<text x="398.2" y="362.7" font-size="8.8" text-anchor="middle" font-weight="normal" fill="#111" textLength="22.0" lengthAdjust="spacingAndGlyphs">female</text>
<text transform="translate(333.00,314.00) rotate(-90)" x="0" y="0" font-size="8.0" style="stroke-width:0.38px" text-anchor="middle" textLength="42.8" lengthAdjust="spacingAndGlyphs" fill="#111">MIP-2 (pg/ml)</text>
<line x1="370.5" y1="286.5" x2="397.0" y2="286.5" stroke="#4a4a4a" stroke-width="1.3"/>
<circle cx="379.25" cy="282.40" r="1.12" fill="#111"/>
<circle cx="382.25" cy="282.40" r="1.12" fill="#111"/>
<circle cx="385.25" cy="282.40" r="1.12" fill="#111"/>
<circle cx="388.25" cy="282.40" r="1.12" fill="#111"/>
<line x1="367.5" y1="347.5" x2="380.5" y2="347.5" stroke="#1a1a1a" stroke-width="1"/>
<line x1="374.5" y1="346.5" x2="374.5" y2="347.5" stroke="#1a1a1a" stroke-width="0.9"/>
<line x1="371.1" y1="346.5" x2="377.9" y2="346.5" stroke="#1a1a1a" stroke-width="0.9"/>
<line x1="371.1" y1="347.5" x2="377.9" y2="347.5" stroke="#1a1a1a" stroke-width="0.9"/>
<circle cx="368.6" cy="347.9" r="1.8" fill="#c0113a"/>
<circle cx="371.3" cy="347.7" r="1.8" fill="#c0113a"/>
<circle cx="374" cy="347.9" r="1.8" fill="#c0113a"/>
<circle cx="376.7" cy="348.0" r="1.8" fill="#c0113a"/>
<circle cx="379.3" cy="348.1" r="1.8" fill="#c0113a"/>
<circle cx="370" cy="347.2" r="1.8" fill="#c0113a"/>
<circle cx="373" cy="347.1" r="1.8" fill="#c0113a"/>
<circle cx="376" cy="347.2" r="1.8" fill="#c0113a"/>
<circle cx="378.5" cy="347.4" r="1.8" fill="#c0113a"/>
<rect x="396.35" y="288.35" width="3.3" height="3.3" fill="#1b4679"/>
<rect x="398.05" y="332.65000000000003" width="3.3" height="3.3" fill="#1b4679"/>
<rect x="395.05" y="334.35" width="3.3" height="3.3" fill="#1b4679"/>
<rect x="395.05" y="337.65000000000003" width="3.3" height="3.3" fill="#1b4679"/>
<rect x="391.05" y="340.95000000000005" width="3.3" height="3.3" fill="#1b4679"/>
<rect x="399.05" y="340.95000000000005" width="3.3" height="3.3" fill="#1b4679"/>
<rect x="402.45000000000005" y="338.95000000000005" width="3.3" height="3.3" fill="#1b4679"/>
<rect x="396.75" y="331.05" width="3.3" height="3.3" fill="#1b4679"/>
<line x1="391.1" y1="331.5" x2="405.4" y2="331.5" stroke="#1a1a1a" stroke-width="1"/>
<line x1="398.5" y1="326.5" x2="398.5" y2="337.5" stroke="#1a1a1a" stroke-width="0.9"/>
<line x1="395.1" y1="326.5" x2="401.9" y2="326.5" stroke="#1a1a1a" stroke-width="0.9"/>
<line x1="395.1" y1="337.5" x2="401.9" y2="337.5" stroke="#1a1a1a" stroke-width="0.9"/>
<text x="428.7" y="268.7" font-size="11.2" text-anchor="start" font-weight="bold" fill="#000" style="stroke:#000;stroke-width:0.35px">K</text>
<line x1="460.5" y1="280.0" x2="460.5" y2="349.8" stroke="#262626" stroke-width="1.45"/>
<line x1="459.8" y1="349.2" x2="513.5" y2="349.2" stroke="#262626" stroke-width="1.45"/>
<line x1="457.3" y1="349.20" x2="460.5" y2="349.20" stroke="#262626" stroke-width="1.3"/>
<text x="454.3" y="351.95" font-size="8.3" text-anchor="end" font-weight="normal" fill="#111" >0</text>
<line x1="457.3" y1="327.13" x2="460.5" y2="327.13" stroke="#262626" stroke-width="1.3"/>
<text x="454.3" y="329.88" font-size="8.3" text-anchor="end" font-weight="normal" fill="#111" >10</text>
<line x1="457.3" y1="305.07" x2="460.5" y2="305.07" stroke="#262626" stroke-width="1.3"/>
<text x="454.3" y="307.82" font-size="8.3" text-anchor="end" font-weight="normal" fill="#111" >20</text>
<line x1="457.3" y1="283.00" x2="460.5" y2="283.00" stroke="#262626" stroke-width="1.3"/>
<text x="454.3" y="285.75" font-size="8.3" text-anchor="end" font-weight="normal" fill="#111" >30</text>
<line x1="474.8" y1="349.2" x2="474.8" y2="352.4" stroke="#262626" stroke-width="1.3"/>
<line x1="499.3" y1="349.2" x2="499.3" y2="352.4" stroke="#262626" stroke-width="1.3"/>
<text x="474.8" y="362.7" font-size="8.8" text-anchor="middle" font-weight="normal" fill="#111" textLength="16.4" lengthAdjust="spacingAndGlyphs">male</text>
<text x="499.3" y="362.7" font-size="8.8" text-anchor="middle" font-weight="normal" fill="#111" textLength="22.0" lengthAdjust="spacingAndGlyphs">female</text>
<text transform="translate(438.40,314.65) rotate(-90)" x="0" y="0" font-size="8.0" style="stroke-width:0.38px" text-anchor="middle" textLength="39.1" lengthAdjust="spacingAndGlyphs" fill="#111">IL-27 (pg/ml)</text>
<line x1="471.7" y1="289.0" x2="497.8" y2="289.0" stroke="#4a4a4a" stroke-width="1.3"/>
<circle cx="480.25" cy="284.90" r="1.12" fill="#111"/>
<circle cx="483.25" cy="284.90" r="1.12" fill="#111"/>
<circle cx="486.25" cy="284.90" r="1.12" fill="#111"/>
<circle cx="489.25" cy="284.90" r="1.12" fill="#111"/>
<line x1="468" y1="347.5" x2="481.5" y2="347.5" stroke="#1a1a1a" stroke-width="1"/>
<line x1="474.5" y1="346.5" x2="474.5" y2="347.5" stroke="#1a1a1a" stroke-width="0.9"/>
<line x1="471.1" y1="346.5" x2="477.9" y2="346.5" stroke="#1a1a1a" stroke-width="0.9"/>
<line x1="471.1" y1="347.5" x2="477.9" y2="347.5" stroke="#1a1a1a" stroke-width="0.9"/>
<circle cx="469" cy="346.5" r="1.8" fill="#c0113a"/>
<circle cx="471.5" cy="346.8" r="1.8" fill="#c0113a"/>
<circle cx="474" cy="347" r="1.8" fill="#c0113a"/>
<circle cx="476.5" cy="347.2" r="1.8" fill="#c0113a"/>
<circle cx="479" cy="347.5" r="1.8" fill="#c0113a"/>
<circle cx="481" cy="347.6" r="1.8" fill="#c0113a"/>
<circle cx="470" cy="345.5" r="1.8" fill="#c0113a"/>
<circle cx="473" cy="345.8" r="1.8" fill="#c0113a"/>
<circle cx="476" cy="346.2" r="1.8" fill="#c0113a"/>
<rect x="491.85" y="293.65000000000003" width="3.3" height="3.3" fill="#1b4679"/>
<rect x="497.35" y="295.55" width="3.3" height="3.3" fill="#1b4679"/>
<rect x="497.35" y="306.95000000000005" width="3.3" height="3.3" fill="#1b4679"/>
<rect x="497.35" y="319.75" width="3.3" height="3.3" fill="#1b4679"/>
<rect x="491.85" y="322.85" width="3.3" height="3.3" fill="#1b4679"/>
<rect x="497.35" y="325.05" width="3.3" height="3.3" fill="#1b4679"/>
<rect x="503.45000000000005" y="324.65000000000003" width="3.3" height="3.3" fill="#1b4679"/>
<rect x="497.35" y="330.75" width="3.3" height="3.3" fill="#1b4679"/>
<line x1="492.1" y1="316.5" x2="506" y2="316.5" stroke="#1a1a1a" stroke-width="1"/>
<line x1="499.5" y1="311.5" x2="499.5" y2="321.5" stroke="#1a1a1a" stroke-width="0.9"/>
<line x1="496.1" y1="311.5" x2="502.9" y2="311.5" stroke="#1a1a1a" stroke-width="0.9"/>
<line x1="496.1" y1="321.5" x2="502.9" y2="321.5" stroke="#1a1a1a" stroke-width="0.9"/>
<text x="9.0" y="390.3" font-size="11.2" text-anchor="start" font-weight="bold" fill="#000" style="stroke:#000;stroke-width:0.35px">L</text>
<line x1="44.9" y1="399.4" x2="44.9" y2="469.90000000000003" stroke="#262626" stroke-width="1.45"/>
<line x1="44.199999999999996" y1="469.3" x2="97.9" y2="469.3" stroke="#262626" stroke-width="1.45"/>
<line x1="41.699999999999996" y1="469.30" x2="44.9" y2="469.30" stroke="#262626" stroke-width="1.3"/>
<text x="38.7" y="472.05" font-size="8.3" text-anchor="end" font-weight="normal" fill="#111" >0</text>
<line x1="41.699999999999996" y1="447.00" x2="44.9" y2="447.00" stroke="#262626" stroke-width="1.3"/>
<text x="38.7" y="449.75" font-size="8.3" text-anchor="end" font-weight="normal" fill="#111" >200</text>
<line x1="41.699999999999996" y1="424.70" x2="44.9" y2="424.70" stroke="#262626" stroke-width="1.3"/>
<text x="38.7" y="427.45" font-size="8.3" text-anchor="end" font-weight="normal" fill="#111" >400</text>
<line x1="41.699999999999996" y1="402.40" x2="44.9" y2="402.40" stroke="#262626" stroke-width="1.3"/>
<text x="38.7" y="405.15" font-size="8.3" text-anchor="end" font-weight="normal" fill="#111" >600</text>
<line x1="59.2" y1="469.3" x2="59.2" y2="472.5" stroke="#262626" stroke-width="1.3"/>
<line x1="83.7" y1="469.3" x2="83.7" y2="472.5" stroke="#262626" stroke-width="1.3"/>
<text x="59.2" y="482.8" font-size="8.8" text-anchor="middle" font-weight="normal" fill="#111" textLength="16.4" lengthAdjust="spacingAndGlyphs">male</text>
<text x="83.7" y="482.8" font-size="8.8" text-anchor="middle" font-weight="normal" fill="#111" textLength="22.0" lengthAdjust="spacingAndGlyphs">female</text>
<text transform="translate(18.40,433.75) rotate(-90)" x="0" y="0" font-size="8.0" style="stroke-width:0.38px" text-anchor="middle" textLength="39.7" lengthAdjust="spacingAndGlyphs" fill="#111">IP-10 (pg/ml)</text>
<line x1="56.5" y1="407.0" x2="83.5" y2="407.0" stroke="#4a4a4a" stroke-width="1.3"/>
<circle cx="70.00" cy="402.90" r="1.12" fill="#111"/>
<circle cx="53.6" cy="432.3" r="1.8" fill="#c0113a"/>
<circle cx="59.2" cy="434" r="1.8" fill="#c0113a"/>
<circle cx="59.2" cy="437.6" r="1.8" fill="#c0113a"/>
<circle cx="56.7" cy="443.2" r="1.8" fill="#c0113a"/>
<circle cx="62.3" cy="442.7" r="1.8" fill="#c0113a"/>
<circle cx="59.2" cy="449.3" r="1.8" fill="#c0113a"/>
<circle cx="53.6" cy="453.4" r="1.8" fill="#c0113a"/>
<circle cx="59.2" cy="452.9" r="1.8" fill="#c0113a"/>
<circle cx="64.8" cy="453.1" r="1.8" fill="#c0113a"/>
<rect x="79.14999999999999" y="415.75" width="3.3" height="3.3" fill="#1b4679"/>
<rect x="84.85" y="414.35" width="3.3" height="3.3" fill="#1b4679"/>
<rect x="81.94999999999999" y="421.65000000000003" width="3.3" height="3.3" fill="#1b4679"/>
<rect x="81.94999999999999" y="427.75" width="3.3" height="3.3" fill="#1b4679"/>
<rect x="81.94999999999999" y="434.95000000000005" width="3.3" height="3.3" fill="#1b4679"/>
<rect x="76.64999999999999" y="440.85" width="3.3" height="3.3" fill="#1b4679"/>
<rect x="81.94999999999999" y="439.55" width="3.3" height="3.3" fill="#1b4679"/>
<rect x="87.55" y="440.05" width="3.3" height="3.3" fill="#1b4679"/>
<line x1="52" y1="444.5" x2="66.3" y2="444.5" stroke="#1a1a1a" stroke-width="1"/>
<line x1="59.5" y1="441.5" x2="59.5" y2="447.5" stroke="#1a1a1a" stroke-width="0.9"/>
<line x1="56.1" y1="441.5" x2="62.9" y2="441.5" stroke="#1a1a1a" stroke-width="0.9"/>
<line x1="56.1" y1="447.5" x2="62.9" y2="447.5" stroke="#1a1a1a" stroke-width="0.9"/>
<line x1="77" y1="431.5" x2="90.8" y2="431.5" stroke="#1a1a1a" stroke-width="1"/>
<line x1="83.5" y1="427.5" x2="83.5" y2="435.5" stroke="#1a1a1a" stroke-width="0.9"/>
<line x1="80.1" y1="427.5" x2="86.9" y2="427.5" stroke="#1a1a1a" stroke-width="0.9"/>
<line x1="80.1" y1="435.5" x2="86.9" y2="435.5" stroke="#1a1a1a" stroke-width="0.9"/>
<text x="113.5" y="390.3" font-size="11.2" text-anchor="start" font-weight="bold" fill="#000" style="stroke:#000;stroke-width:0.35px">M</text>
<line x1="155.7" y1="399.4" x2="155.7" y2="469.90000000000003" stroke="#262626" stroke-width="1.45"/>
<line x1="155.0" y1="469.3" x2="208.7" y2="469.3" stroke="#262626" stroke-width="1.45"/>
<line x1="152.5" y1="469.30" x2="155.7" y2="469.30" stroke="#262626" stroke-width="1.3"/>
<text x="149.5" y="472.05" font-size="8.3" text-anchor="end" font-weight="normal" fill="#111" >0</text>
<line x1="152.5" y1="455.92" x2="155.7" y2="455.92" stroke="#262626" stroke-width="1.3"/>
<text x="149.5" y="458.67" font-size="8.3" text-anchor="end" font-weight="normal" fill="#111" >1000</text>
<line x1="152.5" y1="442.54" x2="155.7" y2="442.54" stroke="#262626" stroke-width="1.3"/>
<text x="149.5" y="445.29" font-size="8.3" text-anchor="end" font-weight="normal" fill="#111" >2000</text>
<line x1="152.5" y1="429.16" x2="155.7" y2="429.16" stroke="#262626" stroke-width="1.3"/>
<text x="149.5" y="431.91" font-size="8.3" text-anchor="end" font-weight="normal" fill="#111" >3000</text>
<line x1="152.5" y1="415.78" x2="155.7" y2="415.78" stroke="#262626" stroke-width="1.3"/>
<text x="149.5" y="418.53" font-size="8.3" text-anchor="end" font-weight="normal" fill="#111" >4000</text>
<line x1="152.5" y1="402.40" x2="155.7" y2="402.40" stroke="#262626" stroke-width="1.3"/>
<text x="149.5" y="405.15" font-size="8.3" text-anchor="end" font-weight="normal" fill="#111" >5000</text>
<line x1="170.0" y1="469.3" x2="170.0" y2="472.5" stroke="#262626" stroke-width="1.3"/>
<line x1="194.5" y1="469.3" x2="194.5" y2="472.5" stroke="#262626" stroke-width="1.3"/>
<text x="170.0" y="482.8" font-size="8.8" text-anchor="middle" font-weight="normal" fill="#111" textLength="16.4" lengthAdjust="spacingAndGlyphs">male</text>
<text x="194.5" y="482.8" font-size="8.8" text-anchor="middle" font-weight="normal" fill="#111" textLength="22.0" lengthAdjust="spacingAndGlyphs">female</text>
<text transform="translate(124.00,433.40) rotate(-90)" x="0" y="0" font-size="8.0" style="stroke-width:0.38px" text-anchor="middle" textLength="45.2" lengthAdjust="spacingAndGlyphs" fill="#111">MCP-1 (pg/ml)</text>
<line x1="162.5" y1="406.2" x2="188.4" y2="406.2" stroke="#4a4a4a" stroke-width="1.3"/>
<circle cx="173.95" cy="402.10" r="1.12" fill="#111"/>
<circle cx="176.95" cy="402.10" r="1.12" fill="#111"/>
<circle cx="170" cy="448" r="1.8" fill="#c0113a"/>
<circle cx="164.3" cy="454" r="1.8" fill="#c0113a"/>
<circle cx="175.8" cy="454" r="1.8" fill="#c0113a"/>
<circle cx="168.3" cy="456.9" r="1.8" fill="#c0113a"/>
<circle cx="171.8" cy="456.4" r="1.8" fill="#c0113a"/>
<circle cx="169.6" cy="459.6" r="1.8" fill="#c0113a"/>
<circle cx="164.3" cy="462.6" r="1.8" fill="#c0113a"/>
<circle cx="171.8" cy="462.6" r="1.8" fill="#c0113a"/>
<circle cx="175.8" cy="462.6" r="1.8" fill="#c0113a"/>
<rect x="193.04999999999998" y="410.65000000000003" width="3.3" height="3.3" fill="#1b4679"/>
<rect x="189.54999999999998" y="420.95000000000005" width="3.3" height="3.3" fill="#1b4679"/>
<rect x="196.65" y="419.65000000000003" width="3.3" height="3.3" fill="#1b4679"/>
<rect x="189.54999999999998" y="434.85" width="3.3" height="3.3" fill="#1b4679"/>
<rect x="196.65" y="437.55" width="3.3" height="3.3" fill="#1b4679"/>
<rect x="189.54999999999998" y="440.45000000000005" width="3.3" height="3.3" fill="#1b4679"/>
<rect x="193.04999999999998" y="445.45000000000005" width="3.3" height="3.3" fill="#1b4679"/>
<rect x="193.04999999999998" y="456.55" width="3.3" height="3.3" fill="#1b4679"/>
<line x1="163" y1="457.5" x2="177.5" y2="457.5" stroke="#1a1a1a" stroke-width="1"/>
<line x1="170.5" y1="455.5" x2="170.5" y2="460.5" stroke="#1a1a1a" stroke-width="0.9"/>
<line x1="167.1" y1="455.5" x2="173.9" y2="455.5" stroke="#1a1a1a" stroke-width="0.9"/>
<line x1="167.1" y1="460.5" x2="173.9" y2="460.5" stroke="#1a1a1a" stroke-width="0.9"/>
<line x1="188.1" y1="434.5" x2="201.8" y2="434.5" stroke="#1a1a1a" stroke-width="1"/>
<line x1="194.5" y1="429.5" x2="194.5" y2="440.5" stroke="#1a1a1a" stroke-width="0.9"/>
<line x1="191.1" y1="429.5" x2="197.9" y2="429.5" stroke="#1a1a1a" stroke-width="0.9"/>
<line x1="191.1" y1="440.5" x2="197.9" y2="440.5" stroke="#1a1a1a" stroke-width="0.9"/>
<text x="225.8" y="390.3" font-size="11.2" text-anchor="start" font-weight="bold" fill="#000" style="stroke:#000;stroke-width:0.35px">N</text>
<line x1="258.0" y1="399.4" x2="258.0" y2="469.90000000000003" stroke="#262626" stroke-width="1.45"/>
<line x1="257.3" y1="469.3" x2="311.0" y2="469.3" stroke="#262626" stroke-width="1.45"/>
<line x1="254.8" y1="469.30" x2="258.0" y2="469.30" stroke="#262626" stroke-width="1.3"/>
<text x="251.8" y="472.05" font-size="8.3" text-anchor="end" font-weight="normal" fill="#111" >200</text>
<line x1="254.8" y1="452.57" x2="258.0" y2="452.57" stroke="#262626" stroke-width="1.3"/>
<text x="251.8" y="455.32" font-size="8.3" text-anchor="end" font-weight="normal" fill="#111" >250</text>
<line x1="254.8" y1="435.85" x2="258.0" y2="435.85" stroke="#262626" stroke-width="1.3"/>
<text x="251.8" y="438.6" font-size="8.3" text-anchor="end" font-weight="normal" fill="#111" >300</text>
<line x1="254.8" y1="419.12" x2="258.0" y2="419.12" stroke="#262626" stroke-width="1.3"/>
<text x="251.8" y="421.88" font-size="8.3" text-anchor="end" font-weight="normal" fill="#111" >350</text>
<line x1="254.8" y1="402.40" x2="258.0" y2="402.40" stroke="#262626" stroke-width="1.3"/>
<text x="251.8" y="405.15" font-size="8.3" text-anchor="end" font-weight="normal" fill="#111" >400</text>
<line x1="272.3" y1="469.3" x2="272.3" y2="472.5" stroke="#262626" stroke-width="1.3"/>
<line x1="296.8" y1="469.3" x2="296.8" y2="472.5" stroke="#262626" stroke-width="1.3"/>
<text x="272.3" y="482.8" font-size="8.8" text-anchor="middle" font-weight="normal" fill="#111" textLength="16.4" lengthAdjust="spacingAndGlyphs">male</text>
<text x="296.8" y="482.8" font-size="8.8" text-anchor="middle" font-weight="normal" fill="#111" textLength="22.0" lengthAdjust="spacingAndGlyphs">female</text>
<text transform="translate(231.40,433.20) rotate(-90)" x="0" y="0" font-size="8.0" style="stroke-width:0.38px" text-anchor="middle" textLength="44.8" lengthAdjust="spacingAndGlyphs" fill="#111">MCP-3 (pg/ml)</text>
<line x1="268.6" y1="402.3" x2="294.4" y2="402.3" stroke="#4a4a4a" stroke-width="1.3"/>
<circle cx="277.00" cy="398.20" r="1.12" fill="#111"/>
<circle cx="280.00" cy="398.20" r="1.12" fill="#111"/>
<circle cx="283.00" cy="398.20" r="1.12" fill="#111"/>
<circle cx="286.00" cy="398.20" r="1.12" fill="#111"/>
<circle cx="277.2" cy="445.3" r="1.8" fill="#c0113a"/>
<circle cx="272.2" cy="448" r="1.8" fill="#c0113a"/>
<circle cx="266.4" cy="450.3" r="1.8" fill="#c0113a"/>
<circle cx="277.2" cy="450.6" r="1.8" fill="#c0113a"/>
<circle cx="266.4" cy="455" r="1.8" fill="#c0113a"/>
<circle cx="277.5" cy="457.2" r="1.8" fill="#c0113a"/>
<circle cx="272.2" cy="458.3" r="1.8" fill="#c0113a"/>
<circle cx="274.6" cy="462.3" r="1.8" fill="#c0113a"/>
<circle cx="269.3" cy="463.8" r="1.8" fill="#c0113a"/>
<rect x="294.75" y="406.55" width="3.3" height="3.3" fill="#1b4679"/>
<rect x="290.85" y="416.25" width="3.3" height="3.3" fill="#1b4679"/>
<rect x="298.05" y="414.95000000000005" width="3.3" height="3.3" fill="#1b4679"/>
<rect x="290.85" y="424.15000000000003" width="3.3" height="3.3" fill="#1b4679"/>
<rect x="294.75" y="424.15000000000003" width="3.3" height="3.3" fill="#1b4679"/>
<rect x="298.05" y="424.85" width="3.3" height="3.3" fill="#1b4679"/>
<rect x="294.75" y="429.05" width="3.3" height="3.3" fill="#1b4679"/>
<rect x="294.75" y="435.75" width="3.3" height="3.3" fill="#1b4679"/>
<line x1="267.3" y1="454.5" x2="279.2" y2="454.5" stroke="#1a1a1a" stroke-width="1"/>
<line x1="273.5" y1="452.5" x2="273.5" y2="456.5" stroke="#1a1a1a" stroke-width="0.9"/>
<line x1="270.1" y1="452.5" x2="276.9" y2="452.5" stroke="#1a1a1a" stroke-width="0.9"/>
<line x1="270.1" y1="456.5" x2="276.9" y2="456.5" stroke="#1a1a1a" stroke-width="0.9"/>
<line x1="289.4" y1="423.5" x2="303.7" y2="423.5" stroke="#1a1a1a" stroke-width="1"/>
<line x1="296.5" y1="420.5" x2="296.5" y2="425.5" stroke="#1a1a1a" stroke-width="0.9"/>
<line x1="293.1" y1="420.5" x2="299.9" y2="420.5" stroke="#1a1a1a" stroke-width="0.9"/>
<line x1="293.1" y1="425.5" x2="299.9" y2="425.5" stroke="#1a1a1a" stroke-width="0.9"/>
<text x="327.2" y="390.3" font-size="11.2" text-anchor="start" font-weight="bold" fill="#000" style="stroke:#000;stroke-width:0.35px">O</text>
<line x1="359.2" y1="399.4" x2="359.2" y2="469.90000000000003" stroke="#262626" stroke-width="1.45"/>
<line x1="358.5" y1="469.3" x2="412.2" y2="469.3" stroke="#262626" stroke-width="1.45"/>
<line x1="356.0" y1="469.30" x2="359.2" y2="469.30" stroke="#262626" stroke-width="1.3"/>
<text x="353.0" y="472.05" font-size="8.3" text-anchor="end" font-weight="normal" fill="#111" >0</text>
<line x1="356.0" y1="452.57" x2="359.2" y2="452.57" stroke="#262626" stroke-width="1.3"/>
<text x="353.0" y="455.32" font-size="8.3" text-anchor="end" font-weight="normal" fill="#111" >200</text>
<line x1="356.0" y1="435.85" x2="359.2" y2="435.85" stroke="#262626" stroke-width="1.3"/>
<text x="353.0" y="438.6" font-size="8.3" text-anchor="end" font-weight="normal" fill="#111" >400</text>
<line x1="356.0" y1="419.12" x2="359.2" y2="419.12" stroke="#262626" stroke-width="1.3"/>
<text x="353.0" y="421.88" font-size="8.3" text-anchor="end" font-weight="normal" fill="#111" >600</text>
<line x1="356.0" y1="402.40" x2="359.2" y2="402.40" stroke="#262626" stroke-width="1.3"/>
<text x="353.0" y="405.15" font-size="8.3" text-anchor="end" font-weight="normal" fill="#111" >800</text>
<line x1="373.5" y1="469.3" x2="373.5" y2="472.5" stroke="#262626" stroke-width="1.3"/>
<line x1="398.0" y1="469.3" x2="398.0" y2="472.5" stroke="#262626" stroke-width="1.3"/>
<text x="373.5" y="482.8" font-size="8.8" text-anchor="middle" font-weight="normal" fill="#111" textLength="16.4" lengthAdjust="spacingAndGlyphs">male</text>
<text x="398.0" y="482.8" font-size="8.8" text-anchor="middle" font-weight="normal" fill="#111" textLength="22.0" lengthAdjust="spacingAndGlyphs">female</text>
<text transform="translate(332.40,433.10) rotate(-90)" x="0" y="0" font-size="8.0" style="stroke-width:0.38px" text-anchor="middle" textLength="47.0" lengthAdjust="spacingAndGlyphs" fill="#111">RANTES (pg/ml)</text>
<line x1="368.0" y1="404.5" x2="394.0" y2="404.5" stroke="#4a4a4a" stroke-width="1.3"/>
<circle cx="376.50" cy="400.40" r="1.12" fill="#111"/>
<circle cx="379.50" cy="400.40" r="1.12" fill="#111"/>
<circle cx="382.50" cy="400.40" r="1.12" fill="#111"/>
<circle cx="385.50" cy="400.40" r="1.12" fill="#111"/>
<circle cx="373.6" cy="434.3" r="1.8" fill="#c0113a"/>
<circle cx="379.4" cy="438.3" r="1.8" fill="#c0113a"/>
<circle cx="368.1" cy="440.5" r="1.8" fill="#c0113a"/>
<circle cx="368.1" cy="444.4" r="1.8" fill="#c0113a"/>
<circle cx="374.2" cy="442.9" r="1.8" fill="#c0113a"/>
<circle cx="379.4" cy="443.1" r="1.8" fill="#c0113a"/>
<circle cx="372.4" cy="446" r="1.8" fill="#c0113a"/>
<circle cx="375.7" cy="449" r="1.8" fill="#c0113a"/>
<circle cx="371.8" cy="451.5" r="1.8" fill="#c0113a"/>
<rect x="396.75" y="412.55" width="3.3" height="3.3" fill="#1b4679"/>
<rect x="391.15000000000003" y="415.35" width="3.3" height="3.3" fill="#1b4679"/>
<rect x="396.75" y="418.65000000000003" width="3.3" height="3.3" fill="#1b4679"/>
<rect x="391.15000000000003" y="426.55" width="3.3" height="3.3" fill="#1b4679"/>
<rect x="391.15000000000003" y="430.85" width="3.3" height="3.3" fill="#1b4679"/>
<rect x="396.75" y="429.05" width="3.3" height="3.3" fill="#1b4679"/>
<rect x="402.55" y="429.65000000000003" width="3.3" height="3.3" fill="#1b4679"/>
<rect x="396.75" y="421.65000000000003" width="3.3" height="3.3" fill="#1b4679"/>
<line x1="369.3" y1="441.5" x2="377.9" y2="441.5" stroke="#1a1a1a" stroke-width="1"/>
<line x1="373.5" y1="440.5" x2="373.5" y2="444.5" stroke="#1a1a1a" stroke-width="0.9"/>
<line x1="370.1" y1="440.5" x2="376.9" y2="440.5" stroke="#1a1a1a" stroke-width="0.9"/>
<line x1="370.1" y1="444.5" x2="376.9" y2="444.5" stroke="#1a1a1a" stroke-width="0.9"/>
<line x1="391.3" y1="424.5" x2="405.4" y2="424.5" stroke="#1a1a1a" stroke-width="1"/>
<line x1="398.5" y1="422.5" x2="398.5" y2="427.5" stroke="#1a1a1a" stroke-width="0.9"/>
<line x1="395.1" y1="422.5" x2="401.9" y2="422.5" stroke="#1a1a1a" stroke-width="0.9"/>
<line x1="395.1" y1="427.5" x2="401.9" y2="427.5" stroke="#1a1a1a" stroke-width="0.9"/>
<line x1="427.7" y1="428.85" x2="437.9" y2="428.85" stroke="#7a2a40" stroke-width="1.6"/>
<circle cx="432.8" cy="428.85" r="2.2" fill="#c0113a"/>
<line x1="427.7" y1="439.85" x2="437.9" y2="439.85" stroke="#2c3d58" stroke-width="1.6"/>
<rect x="430.6" y="437.65" width="4.4" height="4.4" fill="#1b4679"/>
<text x="441.0" y="431.3" font-size="8" text-anchor="start" font-weight="normal" fill="#333" textLength="38.6" lengthAdjust="spacingAndGlyphs" style="stroke:#444">male (n = 9)</text>
<text x="441.0" y="442.3" font-size="8" text-anchor="start" font-weight="normal" fill="#333" textLength="44.6" lengthAdjust="spacingAndGlyphs" style="stroke:#444">female (n = 8)</text>
</svg>
<div class="frame"></div>
</body></html>
